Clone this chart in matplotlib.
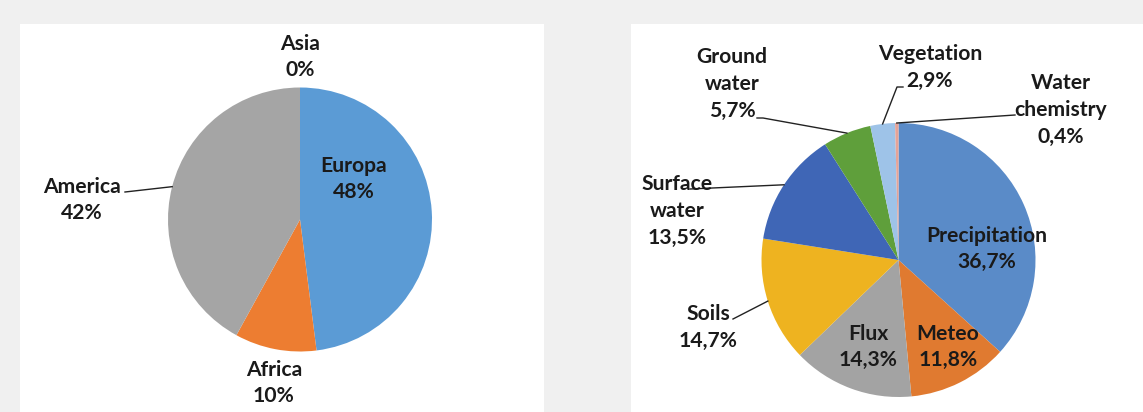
import matplotlib
matplotlib.use("Agg")
import matplotlib.pyplot as plt
from matplotlib.patches import Rectangle
import numpy as np

# ---- data ----
cont_labels = ["Europa", "Africa", "America", "Asia"]
cont_values = [48, 10, 42, 0]
cont_texts = ["48%", "10%", "42%", "0%"]
cont_colors = ["#5B9BD5", "#ED7D31", "#A5A5A5", "#FFC000"]

type_labels = ["Precipitation", "Meteo", "Flux", "Soils", "Surface\nwater",
               "Ground\nwater", "Vegetation", "Water\nchemistry"]
type_values = [36.7, 11.8, 14.3, 14.7, 13.5, 5.7, 2.9, 0.4]
type_texts = ["36,7%", "11,8%", "14,3%", "14,7%", "13,5%", "5,7%", "2,9%", "0,4%"]
type_colors = ["#5A8BC8", "#E07A30", "#A3A3A3", "#EEB320", "#3F66B6",
               "#5F9F3B", "#9EC3E8", "#E6A397"]

W, H = 1143, 412
fig = plt.figure(figsize=(W / 100, H / 100), dpi=100, facecolor="#F0F0F0")
ax = fig.add_axes([0, 0, 1, 1])
ax.set_facecolor("#F0F0F0")


def Y(py):
    return H - py


# white panels
ax.add_patch(Rectangle((20, Y(412)), 524, 388, facecolor="white", edgecolor="none", zorder=0))
ax.add_patch(Rectangle((631, Y(412)), 512, 388, facecolor="white", edgecolor="none", zorder=0))

FONT = dict(family="Lato", fontweight="bold", fontsize=15.2, color="#1a1a1a",
            ha="center", va="center", linespacing=1.42, zorder=5)

# left pie
c1 = (300, Y(219.5))
r1 = 132
w1, _ = ax.pie(cont_values, colors=cont_colors, startangle=90, counterclock=False,
               center=c1, radius=r1, frame=True,
               wedgeprops=dict(linewidth=0))

# right pie
c2 = (898.5, Y(260))
r2 = 137
w2, _ = ax.pie(type_values, colors=type_colors, startangle=90, counterclock=False,
               center=c2, radius=r2, frame=True,
               wedgeprops=dict(linewidth=0))


def edge_point(w, c, r):
    a = np.deg2rad((w.theta1 + w.theta2) / 2)
    return c[0] + r * np.cos(a), c[1] + r * np.sin(a)


# left labels (pixel layout positions)
left_pos = {"Europa": (354, 179), "Africa": (274, 383), "America": (82, 200), "Asia": (300, 57)}
for lab, txt in zip(cont_labels, cont_texts):
    x, y = left_pos[lab]
    ax.text(x, Y(y), f"{lab}\n{txt}", **FONT)

# America leader
ex, ey = edge_point(w1[2], c1, r1)
ax.plot([125, ex], [Y(192), ey], color="#222222", lw=1.0, zorder=4)

# right labels
right_pos = [(987, 249), (948, 347), (868, 347), (708, 327.5), (677, 211),
             (732, 84), (930, 67.5), (1061, 110)]
for lab, txt, (x, y) in zip(type_labels, type_texts, right_pos):
    ax.text(x, Y(y), f"{lab}\n{txt}", **FONT)

# leaders right
# Surface water
ex, ey = edge_point(w2[4], c2, r2)
ax.plot([690, ex], [Y(189), ey], color="#222222", lw=1.0, zorder=4)
# Soils
ex, ey = edge_point(w2[3], c2, r2)
ax.plot([733, ex], [Y(319), ey], color="#222222", lw=1.0, zorder=4)
# Ground water
ex, ey = edge_point(w2[5], c2, r2)
ax.plot([757, 763, ex], [Y(118), Y(118), ey], color="#222222", lw=1.0, zorder=4)
# Vegetation
ex, ey = edge_point(w2[6], c2, r2)
ax.plot([903, 897, ex], [Y(87), Y(87), ey], color="#222222", lw=1.0, zorder=4)
# Water chemistry
ex, ey = edge_point(w2[7], c2, r2)
ax.plot([1015, ex], [Y(115), ey], color="#222222", lw=1.0, zorder=4)

ax.set_xlim(0, W)
ax.set_ylim(0, H)
ax.set_aspect("equal")
ax.axis("off")

fig.savefig("out.png", dpi=100, facecolor=fig.get_facecolor())
